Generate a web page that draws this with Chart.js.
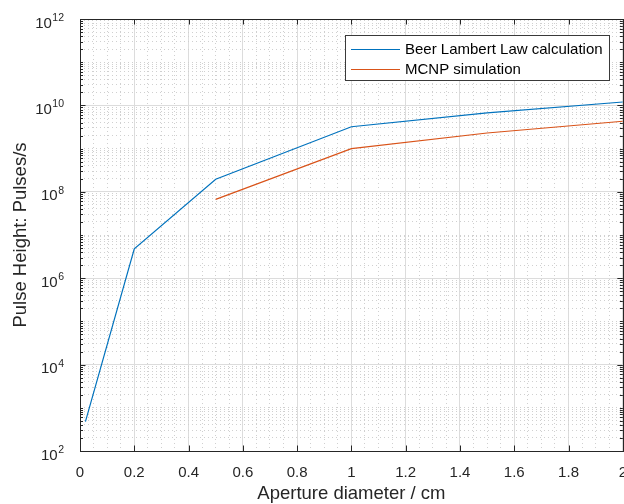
<!DOCTYPE html>
<html>
<head>
<meta charset="utf-8">
<script src="https://cdn.jsdelivr.net/npm/chart.js@4.4.0/dist/chart.umd.min.js"></script>
<style>
  html, body { margin: 0; padding: 0; background: #fff; overflow: hidden; }
  #wrap { width: 640px; height: 504px; }
</style>
</head>
<body>
<div id="wrap"><canvas id="pulseChart" width="640" height="504"></canvas></div>
<script>
// Beer Lambert law calculation
var beerApertures = [0.02, 0.2, 0.5, 1, 1.5, 2];
var beerLambert = [480, 4.8e6, 1.95e8, 3.2e9, 6.7e9, 1.2e10];
// MCNP simulation
var mcnpApertures = [0.5, 1, 1.5, 2];
var mcnpValues = [6.7e7, 1.0e9, 2.3e9, 4.3e9];

// tick labels
var xTickValues = [0, 0.2, 0.4, 0.6, 0.8, 1, 1.2, 1.4, 1.6, 1.8, 2];
var xTickLabels = ['0', '0.2', '0.4', '0.6', '0.8', '1', '1.2', '1.4', '1.6', '1.8', '2'];
var yTickExponents = [2, 4, 6, 8, 10, 12];

var axisColor = '#262626';
var fontFamily = "'Liberation Sans', Arial, Helvetica, sans-serif";
Chart.defaults.font.family = fontFamily;

function toPoints(xs, ys) {
    return xs.map(function (x, i) { return { x: x, y: ys[i] }; });
}

// x: major every 0.2, minor grid every 0.05
function isMajorX(v) {
    return Math.round(v * 20) % 4 === 0;
}
// y: major every second decade, minor at 1..9 x 10^n
function isMajorY(v) {
    var e = Math.log10(v);
    return Math.abs(e - Math.round(e)) < 1e-9 && yTickExponents.indexOf(Math.round(e)) >= 0;
}

var matlabAxes = {
    id: 'matlabAxes',
    afterDraw: function (chart) {
        var ctx = chart.ctx, a = chart.chartArea;
        var xs = chart.scales.x, ys = chart.scales.y;
        ctx.save();
        ctx.strokeStyle = axisColor;
        ctx.lineWidth = 1;
        ctx.beginPath();
        xs.ticks.forEach(function (t) {
            if (!isMajorX(t.value)) return;
            var px = Math.round(xs.getPixelForValue(t.value)) + 0.5;
            ctx.moveTo(px, a.bottom); ctx.lineTo(px, a.bottom - 5.5);
            ctx.moveTo(px, a.top); ctx.lineTo(px, a.top + 5.5);
        });
        ys.ticks.forEach(function (t) {
            var len = isMajorY(t.value) ? 5.5 : 3;
            var py = Math.round(ys.getPixelForValue(t.value)) + 0.5;
            ctx.moveTo(a.left, py); ctx.lineTo(a.left + len, py);
            ctx.moveTo(a.right, py); ctx.lineTo(a.right - len, py);
        });
        ctx.stroke();
        ctx.strokeRect(Math.round(a.left) + 0.5, Math.round(a.top) + 0.5,
            Math.round(a.right - a.left), Math.round(a.bottom - a.top));

        // y tick labels as 10 with a superscript exponent
        ctx.fillStyle = axisColor;
        ctx.textAlign = 'right';
        ctx.textBaseline = 'alphabetic';
        yTickExponents.forEach(function (e) {
            var py = ys.getPixelForValue(Math.pow(10, e));
            var expText = String(e);
            ctx.font = '10.5px ' + fontFamily;
            var w = ctx.measureText(expText).width;
            ctx.fillText(expText, 64, py + 2);
            ctx.font = '15px ' + fontFamily;
            ctx.fillText('10', 64 - w - 0.5, py + 8.5);
        });

        // legend box in the upper right
        var lx = 345, ly = 35, lw = 264, lh = 45;
        ctx.fillStyle = '#fff';
        ctx.fillRect(lx, ly, lw, lh);
        ctx.strokeStyle = '#3a3a3a';
        ctx.strokeRect(lx + 0.5, ly + 0.5, lw, lh);
        ctx.font = '15px ' + fontFamily;
        ctx.textAlign = 'left';
        ctx.textBaseline = 'middle';
        chart.data.datasets.forEach(function (ds, i) {
            var ry = ly + 14 + i * 20;
            ctx.strokeStyle = ds.borderColor;
            ctx.lineWidth = 1.2;
            ctx.beginPath();
            ctx.moveTo(351, ry + 0.5); ctx.lineTo(400, ry + 0.5);
            ctx.stroke();
            ctx.fillStyle = '#000';
            ctx.fillText(ds.label, 405, ry + 1);
        });
        ctx.restore();
    }
};

var ctx = document.getElementById('pulseChart').getContext('2d');
var chart = new Chart(ctx, {
    type: 'line',
    data: {
        datasets: [{
            label: 'Beer Lambert Law calculation',
            data: toPoints(beerApertures, beerLambert),
            borderColor: '#0072BD',
            borderWidth: 1.2,
            pointRadius: 0,
            tension: 0,
            fill: false
        }, {
            label: 'MCNP simulation',
            data: toPoints(mcnpApertures, mcnpValues),
            borderColor: '#D95319',
            borderWidth: 1.2,
            pointRadius: 0,
            tension: 0,
            fill: false
        }]
    },
    options: {
        responsive: false,
        animation: false,
        devicePixelRatio: 1,
        layout: { padding: { top: 19, right: 17, bottom: 0, left: 0 } },
        plugins: {
            legend: { display: false },
            tooltip: { enabled: false }
        },
        scales: {
            x: {
                type: 'linear',
                min: 0,
                max: 2,
                afterBuildTicks: function (scale) {
                    var t = [];
                    for (var i = 0; i <= 40; i++) t.push({ value: i * 0.05 });
                    scale.ticks = t;
                },
                afterFit: function (scale) { scale.height = 53; },
                grid: {
                    drawTicks: false,
                    lineWidth: 1,
                    color: function (c) {
                        return c.tick && isMajorX(c.tick.value) ? '#dcdcdc' : '#d0d0d0';
                    }
                },
                border: {
                    display: false,
                    dash: function (c) {
                        return c.tick && !isMajorX(c.tick.value) ? [1, 3] : [];
                    }
                },
                ticks: {
                    autoSkip: false,
                    maxRotation: 0,
                    padding: 13,
                    color: axisColor,
                    font: { size: 15 },
                    callback: function (value) {
                        if (!isMajorX(value)) return '';
                        return xTickLabels[Math.round(value * 5)];
                    }
                },
                title: {
                    display: true,
                    text: 'Aperture diameter / cm',
                    color: axisColor,
                    font: { size: 18.5 },
                    padding: { top: 0, bottom: -1 }
                }
            },
            y: {
                type: 'logarithmic',
                min: 1e2,
                max: 1e12,
                afterBuildTicks: function (scale) {
                    var t = [];
                    for (var e = 2; e < 12; e++) {
                        for (var s = 1; s <= 9; s++) t.push({ value: s * Math.pow(10, e) });
                    }
                    t.push({ value: 1e12 });
                    scale.ticks = t;
                },
                afterFit: function (scale) { scale.width = 80; },
                grid: {
                    drawTicks: false,
                    lineWidth: 1,
                    color: function (c) {
                        return c.tick && isMajorY(c.tick.value) ? '#dcdcdc' : '#d0d0d0';
                    }
                },
                border: {
                    display: false,
                    dash: function (c) {
                        return c.tick && !isMajorY(c.tick.value) ? [1, 3] : [];
                    }
                },
                ticks: { display: false, autoSkip: false },
                title: {
                    display: true,
                    text: 'Pulse Height: Pulses/s',
                    color: axisColor,
                    font: { size: 18.5 },
                    padding: { top: 10, bottom: 0 }
                }
            }
        }
    },
    plugins: [matlabAxes]
});
</script>
</body>
</html>
